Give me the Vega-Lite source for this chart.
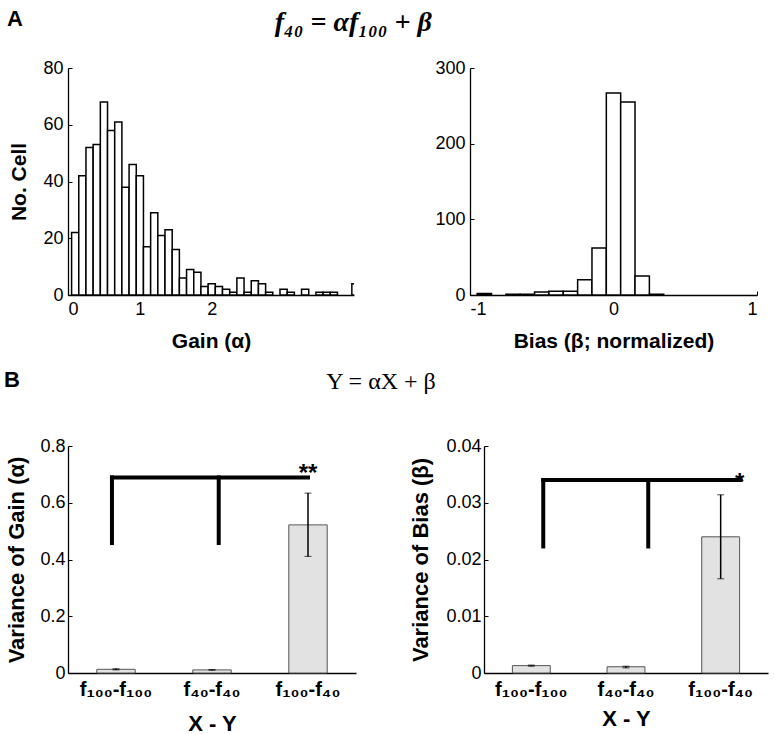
{
  "$schema": "https://vega.github.io/schema/vega-lite/v6.json",
  "padding": {"left": 4, "top": 8, "right": 2, "bottom": 2},
  "background": "white",
  "config": {
    "font": "Liberation Sans",
    "view": {"stroke": null},
    "axis": {
      "grid": false,
      "domainColor": "black",
      "domainWidth": 1.3,
      "tickColor": "black",
      "tickSize": -4,
      "labelColor": "black",
      "labelFont": "Liberation Sans",
      "labelFontSize": 18,
      "labelPadding": 9,
      "titleColor": "black",
      "titleFont": "Liberation Sans",
      "titleFontWeight": "bold",
      "titleFontSize": 21
    }
  },
  "spacing": 18,
  "vconcat": [
    {
      "title": {"text": "A", "orient": "left", "anchor": "end", "angle": 0, "align": "left", "baseline": "top", "font": "Liberation Sans", "fontSize": 22, "fontWeight": "bold", "offset": -14},
      "hconcat": [
        {
          "title": {"text": "f₄₀ = αf₁₀₀ + β", "anchor": "middle", "font": "Liberation Serif", "fontStyle": "italic", "fontWeight": "bold", "fontSize": 28, "offset": 22, "dx": -30},
          "spacing": 80,
          "hconcat": [
            {
              "width": 286, "height": 227,
              "data": {"values": [
                {"lo": 0.05, "hi": 0.15, "n": 22}, {"lo": 0.15, "hi": 0.25, "n": 42}, {"lo": 0.25, "hi": 0.35, "n": 52},
                {"lo": 0.35, "hi": 0.45, "n": 53}, {"lo": 0.45, "hi": 0.55, "n": 68}, {"lo": 0.55, "hi": 0.65, "n": 58},
                {"lo": 0.65, "hi": 0.75, "n": 61}, {"lo": 0.75, "hi": 0.85, "n": 38}, {"lo": 0.85, "hi": 0.95, "n": 46},
                {"lo": 0.95, "hi": 1.05, "n": 42}, {"lo": 1.05, "hi": 1.15, "n": 17}, {"lo": 1.15, "hi": 1.25, "n": 29},
                {"lo": 1.25, "hi": 1.35, "n": 21}, {"lo": 1.35, "hi": 1.45, "n": 23}, {"lo": 1.45, "hi": 1.55, "n": 16},
                {"lo": 1.55, "hi": 1.65, "n": 6}, {"lo": 1.65, "hi": 1.75, "n": 9}, {"lo": 1.75, "hi": 1.85, "n": 8},
                {"lo": 1.85, "hi": 1.95, "n": 3}, {"lo": 1.95, "hi": 2.05, "n": 4}, {"lo": 2.05, "hi": 2.15, "n": 3},
                {"lo": 2.15, "hi": 2.25, "n": 2}, {"lo": 2.25, "hi": 2.35, "n": 1}, {"lo": 2.35, "hi": 2.45, "n": 6},
                {"lo": 2.45, "hi": 2.55, "n": 1}, {"lo": 2.55, "hi": 2.65, "n": 5}, {"lo": 2.65, "hi": 2.75, "n": 4},
                {"lo": 2.75, "hi": 2.85, "n": 1}, {"lo": 2.95, "hi": 3.05, "n": 2}, {"lo": 3.05, "hi": 3.15, "n": 1},
                {"lo": 3.25, "hi": 3.35, "n": 2}, {"lo": 3.45, "hi": 3.55, "n": 1}, {"lo": 3.55, "hi": 3.65, "n": 1},
                {"lo": 3.65, "hi": 3.75, "n": 1}, {"lo": 3.95, "hi": 4.05, "n": 4}
              ]},
              "mark": {"type": "rect", "fill": "white", "stroke": "black", "strokeWidth": 1.5, "clip": true},
              "encoding": {
                "x": {"field": "lo", "type": "quantitative", "scale": {"domain": [0, 3.98], "nice": false, "zero": false},
                      "axis": {"values": [0, 1, 2], "title": "Gain (α)", "titlePadding": 12}},
                "x2": {"field": "hi"},
                "y": {"field": "n", "type": "quantitative", "scale": {"domain": [0, 80], "nice": false},
                      "axis": {"values": [0, 20, 40, 60, 80], "title": "No. Cell", "titlePadding": 13}},
                "y2": {"datum": 0}
              }
            },
            {
              "width": 287, "height": 227,
              "data": {"values": [
                {"lo": -0.95, "hi": -0.85, "n": 2}, {"lo": -0.75, "hi": -0.65, "n": 1}, {"lo": -0.65, "hi": -0.55, "n": 1},
                {"lo": -0.55, "hi": -0.45, "n": 4}, {"lo": -0.45, "hi": -0.35, "n": 5}, {"lo": -0.35, "hi": -0.25, "n": 5},
                {"lo": -0.25, "hi": -0.15, "n": 20}, {"lo": -0.15, "hi": -0.05, "n": 62}, {"lo": -0.05, "hi": 0.05, "n": 267},
                {"lo": 0.05, "hi": 0.15, "n": 255}, {"lo": 0.15, "hi": 0.25, "n": 25}, {"lo": 0.25, "hi": 0.35, "n": 1}
              ]},
              "mark": {"type": "rect", "fill": "white", "stroke": "black", "strokeWidth": 1.5, "clip": true},
              "encoding": {
                "x": {"field": "lo", "type": "quantitative", "scale": {"domain": [-1, 1], "nice": false, "zero": false},
                      "axis": {"values": [-1, 0, 1], "labelExpr": "'' + datum.value", "title": "Bias (β; normalized)", "titlePadding": 12}},
                "x2": {"field": "hi"},
                "y": {"field": "n", "type": "quantitative", "scale": {"domain": [0, 300], "nice": false},
                      "axis": {"values": [0, 100, 200, 300], "title": null}},
                "y2": {"datum": 0}
              }
            }
          ]
        }
      ]
    },
    {
      "title": {"text": "B", "orient": "left", "anchor": "end", "angle": 0, "align": "left", "baseline": "top", "font": "Liberation Sans", "fontSize": 22, "fontWeight": "bold", "offset": -14},
      "hconcat": [
        {
          "title": {"text": "Y = αX + β", "anchor": "middle", "font": "Liberation Serif", "fontStyle": "normal", "fontWeight": "normal", "fontSize": 24, "offset": 43, "dx": -6},
          "spacing": 53,
          "hconcat": [
            {
              "width": 288, "height": 227,
              "layer": [
                {
                  "data": {"values": [
                    {"pair": "f₁₀₀-f₁₀₀", "v": 0.013, "lo": 0.011, "hi": 0.015},
                    {"pair": "f₄₀-f₄₀", "v": 0.011, "lo": 0.010, "hi": 0.012},
                    {"pair": "f₁₀₀-f₄₀", "v": 0.522, "lo": 0.411, "hi": 0.634}
                  ]},
                  "layer": [
                    {
                      "mark": {"type": "bar", "fill": "#e2e2e2", "stroke": "#555555", "strokeWidth": 1},
                      "encoding": {
                        "x": {"field": "pair", "type": "nominal", "sort": null, "scale": {"paddingInner": 0.6, "paddingOuter": 0.3},
                              "axis": {"title": "X - Y", "ticks": false, "labelAngle": 0, "labelFontWeight": "bold", "labelFontSize": 20, "labelPadding": 6, "titleFontSize": 22, "titlePadding": 14}},
                        "y": {"field": "v", "type": "quantitative", "title": "Variance of Gain (α)", "scale": {"domain": [0, 0.8], "nice": false},
                              "axis": {"values": [0, 0.2, 0.4, 0.6, 0.8], "format": "~g", "labelPadding": 7, "titleFontSize": 22, "titlePadding": 11}}
                      }
                    },
                    {
                      "mark": {"type": "errorbar", "color": "black", "ticks": {"size": 7, "color": "black"}, "rule": {"strokeWidth": 1.5}},
                      "encoding": {
                        "x": {"field": "pair", "type": "nominal", "sort": null},
                        "y": {"field": "lo", "type": "quantitative", "title": "Variance of Gain (α)"},
                        "y2": {"field": "hi"}
                      }
                    }
                  ]
                },
                {
                  "data": {"values": [
                    {"x1": 0.458, "x2": 2.5, "y1": 0.689, "y2": 0.689},
                    {"x1": 0.458, "x2": 0.458, "y1": 0.458, "y2": 0.689},
                    {"x1": 1.57, "x2": 1.57, "y1": 0.458, "y2": 0.689}
                  ]},
                  "mark": {"type": "rule", "strokeWidth": 4, "color": "black", "strokeCap": "square"},
                  "encoding": {
                    "x": {"field": "x1", "type": "quantitative", "scale": {"domain": [0, 3], "nice": false, "zero": false}, "axis": null},
                    "x2": {"field": "x2"},
                    "y": {"field": "y1", "type": "quantitative", "title": "Variance of Gain (α)"},
                    "y2": {"field": "y2"}
                  }
                },
                {
                  "data": {"values": [{"x": 2.5, "y": 0.678, "t": "**"}]},
                  "mark": {"type": "text", "fontSize": 24, "fontWeight": "bold", "color": "black", "baseline": "alphabetic", "align": "center"},
                  "encoding": {
                    "x": {"field": "x", "type": "quantitative", "scale": {"domain": [0, 3], "nice": false, "zero": false}, "axis": null},
                    "y": {"field": "y", "type": "quantitative", "title": "Variance of Gain (α)"},
                    "text": {"field": "t"}
                  }
                }
              ],
              "resolve": {"scale": {"x": "independent"}}
            },
            {
              "width": 284, "height": 227,
              "layer": [
                {
                  "data": {"values": [
                    {"pair": "f₁₀₀-f₁₀₀", "v": 0.0013, "lo": 0.0012, "hi": 0.0014},
                    {"pair": "f₄₀-f₄₀", "v": 0.0011, "lo": 0.0009, "hi": 0.0012},
                    {"pair": "f₁₀₀-f₄₀", "v": 0.024, "lo": 0.0166, "hi": 0.0314}
                  ]},
                  "layer": [
                    {
                      "mark": {"type": "bar", "fill": "#e2e2e2", "stroke": "#555555", "strokeWidth": 1},
                      "encoding": {
                        "x": {"field": "pair", "type": "nominal", "sort": null, "scale": {"paddingInner": 0.6, "paddingOuter": 0.3},
                              "axis": {"title": "X - Y", "ticks": false, "labelAngle": 0, "labelFontWeight": "bold", "labelFontSize": 20, "labelPadding": 6, "titleFontSize": 22, "titlePadding": 9}},
                        "y": {"field": "v", "type": "quantitative", "title": "Variance of Bias (β)", "scale": {"domain": [0, 0.04], "nice": false},
                              "axis": {"values": [0, 0.01, 0.02, 0.03, 0.04], "format": "~g", "labelPadding": 7, "titleFontSize": 22, "titlePadding": 13}}
                      }
                    },
                    {
                      "mark": {"type": "errorbar", "color": "black", "ticks": {"size": 7, "color": "black"}, "rule": {"strokeWidth": 1.5}},
                      "encoding": {
                        "x": {"field": "pair", "type": "nominal", "sort": null},
                        "y": {"field": "lo", "type": "quantitative", "title": "Variance of Bias (β)"},
                        "y2": {"field": "hi"}
                      }
                    }
                  ]
                },
                {
                  "data": {"values": [
                    {"x1": 0.626, "x2": 2.71, "y1": 0.034, "y2": 0.034},
                    {"x1": 0.626, "x2": 0.626, "y1": 0.0223, "y2": 0.034},
                    {"x1": 1.735, "x2": 1.735, "y1": 0.0223, "y2": 0.034}
                  ]},
                  "mark": {"type": "rule", "strokeWidth": 4, "color": "black", "strokeCap": "square"},
                  "encoding": {
                    "x": {"field": "x1", "type": "quantitative", "scale": {"domain": [0, 3], "nice": false, "zero": false}, "axis": null},
                    "x2": {"field": "x2"},
                    "y": {"field": "y1", "type": "quantitative", "title": "Variance of Bias (β)"},
                    "y2": {"field": "y2"}
                  }
                },
                {
                  "data": {"values": [{"x": 2.7, "y": 0.0323, "t": "*"}]},
                  "mark": {"type": "text", "fontSize": 24, "fontWeight": "bold", "color": "black", "baseline": "alphabetic", "align": "center"},
                  "encoding": {
                    "x": {"field": "x", "type": "quantitative", "scale": {"domain": [0, 3], "nice": false, "zero": false}, "axis": null},
                    "y": {"field": "y", "type": "quantitative", "title": "Variance of Bias (β)"},
                    "text": {"field": "t"}
                  }
                }
              ],
              "resolve": {"scale": {"x": "independent"}}
            }
          ]
        }
      ]
    }
  ]
}
